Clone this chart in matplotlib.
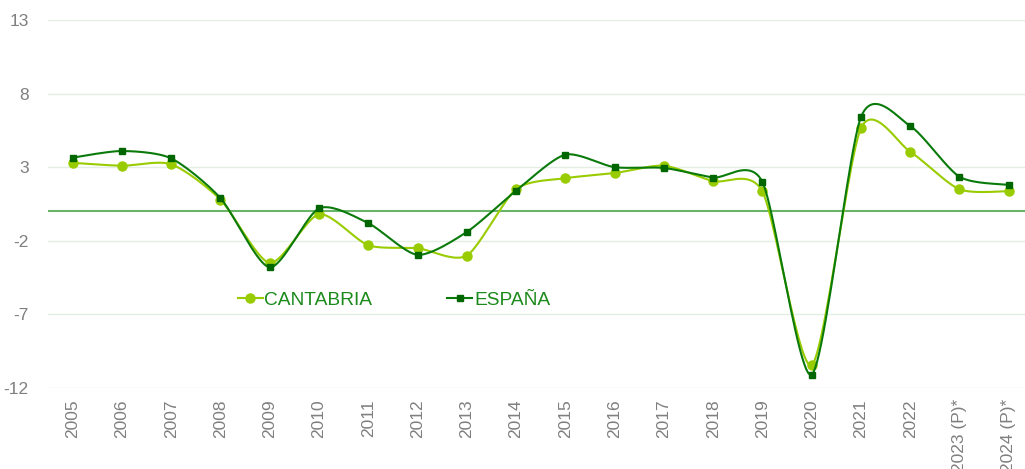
import numpy as np
import matplotlib
matplotlib.use("Agg")
import matplotlib.pyplot as plt
from matplotlib.lines import Line2D

plt.rcParams['font.family'] = ['Liberation Sans', 'DejaVu Sans']
plt.rcParams['axes.unicode_minus'] = False

years = ['2005', '2006', '2007', '2008', '2009', '2010', '2011', '2012', '2013', '2014',
         '2015', '2016', '2017', '2018', '2019', '2020', '2021', '2022', '2023 (P)*', '2024 (P)*']
cantabria = [3.3, 3.1, 3.2, 0.8, -3.5, -0.2, -2.3, -2.5, -3.0, 1.5,
             2.25, 2.6, 3.1, 2.05, 1.35, -10.45, 5.65, 4.05, 1.5, 1.37]
espana = [3.65, 4.1, 3.6, 0.9, -3.8, 0.2, -0.8, -2.95, -1.4, 1.4,
          3.85, 3.0, 2.95, 2.3, 2.0, -11.1, 6.4, 5.8, 2.35, 1.8]
yticks = [13, 8, 3, -2, -7, -12]


def smooth(x, y, steps=24, k=0.125):
    # catmull-rom style bezier, like the office "smoothed line"
    x = np.asarray(x, float)
    y = np.asarray(y, float)
    px = np.concatenate([[x[0]], x, [x[-1]]])
    py = np.concatenate([[y[0]], y, [y[-1]]])
    t = np.linspace(0, 1, steps)[:, None]
    out_x, out_y = [], []
    for i in range(1, len(px) - 2):
        p0, p1, p2, p3 = [np.array([px[j], py[j]]) for j in (i - 1, i, i + 1, i + 2)]
        c1 = p1 + (p2 - p0) * k
        c2 = p2 - (p3 - p1) * k
        pts = ((1 - t) ** 3) * p1 + 3 * ((1 - t) ** 2) * t * c1 + 3 * (1 - t) * t ** 2 * c2 + t ** 3 * p2
        out_x.extend(pts[:, 0])
        out_y.extend(pts[:, 1])
    return out_x, out_y


c_light = '#99cc00'
c_dark = '#006600'
c_dark_line = '#0a7a0a'

fig = plt.figure(figsize=(10.25, 4.69), dpi=100)
ax = fig.add_axes([48 / 1025, 81 / 469, 1 - 48 / 1025, 368 / 469])

x = np.arange(len(years))
for v in yticks:
    ax.axhline(v, color='#e3efe3', lw=1, zorder=0)
ax.axhline(0, color='#6ab46a', lw=1.5, zorder=1)

sx, sy = smooth(x, cantabria)
ax.plot(sx, sy, color=c_light, lw=1.5, zorder=2)
ax.plot(x, cantabria, 'o', color=c_light, ms=6.5, zorder=3)
sx, sy = smooth(x, espana)
ax.plot(sx, sy, color=c_dark_line, lw=1.5, zorder=4)
ax.plot(x, espana, 's', color=c_dark, ms=5, zorder=5)

ax.set_xlim(-0.5, 19.33)
ax.set_ylim(-12, 13)
ax.set_yticks(yticks)
ax.set_xticks(x)
ax.set_xticklabels(years, rotation=90)
ax.tick_params(length=0, labelsize=12.5, colors='#7f7f7f', pad=8)
ax.tick_params(axis='y', pad=14)
for s in ax.spines.values():
    s.set_visible(False)

handles = [Line2D([], [], color=c_light, lw=1.5, marker='o', ms=6.5),
           Line2D([], [], color=c_dark_line, lw=1.5, marker='s', ms=5, mfc=c_dark, mec=c_dark)]
leg = ax.legend(handles, ['CANTABRIA', 'ESPAÑA'], ncol=2, frameon=False,
                loc='center left', bbox_to_anchor=(180 / 977, (469 - 81 - 300) / 368),
                fontsize=13.8, handlelength=1.3, handletextpad=0.1, columnspacing=3.9,
                borderpad=0)
for t in leg.get_texts():
    t.set_color('#1a8a1a')

fig.savefig('out.png', dpi=100)
